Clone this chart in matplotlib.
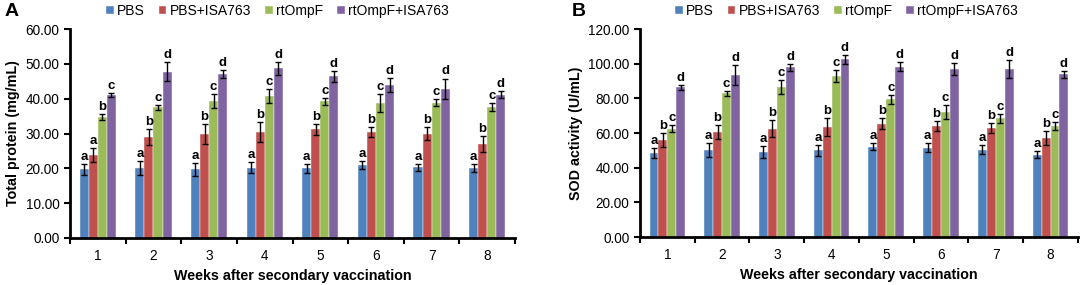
import numpy as np
import matplotlib.pyplot as plt

plt.rcParams['font.family'] = ['Liberation Sans', 'DejaVu Sans']

weeks = ['1', '2', '3', '4', '5', '6', '7', '8']
groups = ['PBS', 'PBS+ISA763', 'rtOmpF', 'rtOmpF+ISA763']
colors = ['#4F81BD', '#C0504D', '#9BBB59', '#8064A2']

# panel A: total protein (mg/mL)
prot_pbs = [19.7, 20.0, 19.7, 20.2, 20.0, 21.0, 20.3, 20.1]
prot_pbs_isa = [23.8, 29.0, 29.8, 30.5, 31.2, 30.4, 30.0, 27.0]
prot_omp = [34.8, 37.5, 39.3, 40.8, 39.3, 38.8, 38.9, 37.6]
prot_omp_isa = [41.0, 47.8, 47.1, 48.7, 46.4, 44.0, 42.8, 41.2]
prot_err = [[1.5, 2.0, 1.8, 1.5, 1.2, 1.2, 1.0, 1.2],
            [2.0, 2.3, 2.8, 2.8, 1.5, 1.5, 2.0, 2.3],
            [0.9, 0.7, 2.0, 2.0, 1.0, 2.5, 1.0, 1.2],
            [0.6, 2.6, 1.2, 1.8, 1.5, 2.0, 3.0, 1.0]]
prot_letters = [['a', 'a', 'b', 'c']] + [['a', 'b', 'c', 'd']] * 7

# panel B: SOD activity (U/mL)
sod_pbs = [48.5, 50.0, 49.0, 50.0, 52.0, 51.5, 50.5, 47.5]
sod_pbs_isa = [56.0, 60.5, 62.5, 63.5, 65.5, 64.0, 63.0, 57.0]
sod_omp = [62.5, 83.0, 86.5, 93.0, 79.5, 72.0, 68.5, 64.0]
sod_omp_isa = [86.5, 93.5, 98.0, 102.5, 98.3, 97.0, 97.0, 94.0]
sod_err = [[3.0, 4.0, 3.5, 3.0, 2.0, 2.5, 2.5, 2.0],
           [4.0, 4.0, 5.0, 5.0, 3.0, 3.0, 3.0, 4.0],
           [2.0, 1.5, 4.0, 3.5, 2.5, 4.0, 2.5, 2.5],
           [1.5, 5.5, 2.0, 2.5, 2.5, 3.5, 5.0, 2.0]]
sod_letters = [['a', 'b', 'c', 'd']] * 8


def draw_panel(fig, ax, series, errs, letters, ymax, ylabel, tag, leg_x, tag_x):
    x = np.arange(1, len(weeks) + 1)
    w = 0.163
    for k, (vals, err) in enumerate(zip(series, errs)):
        pos = x + (k - 1.5) * w
        ax.bar(pos, vals, w, color=colors[k], edgecolor='white', linewidth=0.3,
               label=groups[k], zorder=2)
        ax.errorbar(pos, vals, yerr=err, fmt='none', ecolor='black',
                    elinewidth=1.0, capsize=2.5, capthick=1.0, zorder=3)
        for i in range(len(weeks)):
            ax.text(pos[i], vals[i] + err[i] + ymax * 0.005, letters[i][k],
                    ha='center', va='bottom', fontsize=9.5, fontweight='bold')
    ax.set_xlim(0.5, len(weeks) + 0.5)
    ax.set_ylim(0, ymax)
    ax.set_yticks(np.linspace(0, ymax, 7))
    ax.set_yticklabels(['%.2f' % v for v in np.linspace(0, ymax, 7)])
    ax.set_xticks(x)
    ax.set_xticklabels(weeks)
    ax.set_xticks(np.arange(0.5, len(weeks) + 1), minor=True)
    ax.tick_params(axis='x', which='major', length=0, pad=8, labelsize=9.8)
    ax.tick_params(axis='x', which='minor', length=4, width=1.5, direction='out')
    ax.tick_params(axis='y', length=4, width=1.5, direction='out', labelsize=9.8)
    for s in ['top', 'right']:
        ax.spines[s].set_visible(False)
    for s in ['left', 'bottom']:
        ax.spines[s].set_linewidth(2)
    ax.set_xlabel('Weeks after secondary vaccination', fontsize=10.3,
                  fontweight='bold', labelpad=4)
    ax.set_ylabel(ylabel, fontsize=10.3, fontweight='bold', labelpad=4)
    ax.legend(loc='center', bbox_to_anchor=(leg_x, 0.962),
              bbox_transform=fig.transFigure, ncol=4,
              frameon=False, fontsize=10, handlelength=0.55, handleheight=0.55,
              handletextpad=0.25, columnspacing=1.0, borderpad=0)
    fig.text(tag_x, 0.99, tag, fontsize=14, fontweight='bold', va='top')


fig = plt.figure(figsize=(10.84, 2.85), dpi=100)
ax1 = fig.add_axes([0.0646, 0.165, 0.4105, 0.733])
ax2 = fig.add_axes([0.5904, 0.168, 0.404, 0.73])
draw_panel(fig, ax1, [prot_pbs, prot_pbs_isa, prot_omp, prot_omp_isa], prot_err,
           prot_letters, 60, 'Total protein (mg/mL)', 'A', 0.256, 0.004)
draw_panel(fig, ax2, [sod_pbs, sod_pbs_isa, sod_omp, sod_omp_isa], sod_err,
           sod_letters, 120, 'SOD activity (U/mL)', 'B', 0.781, 0.527)
fig.savefig('out.png', dpi=100)
